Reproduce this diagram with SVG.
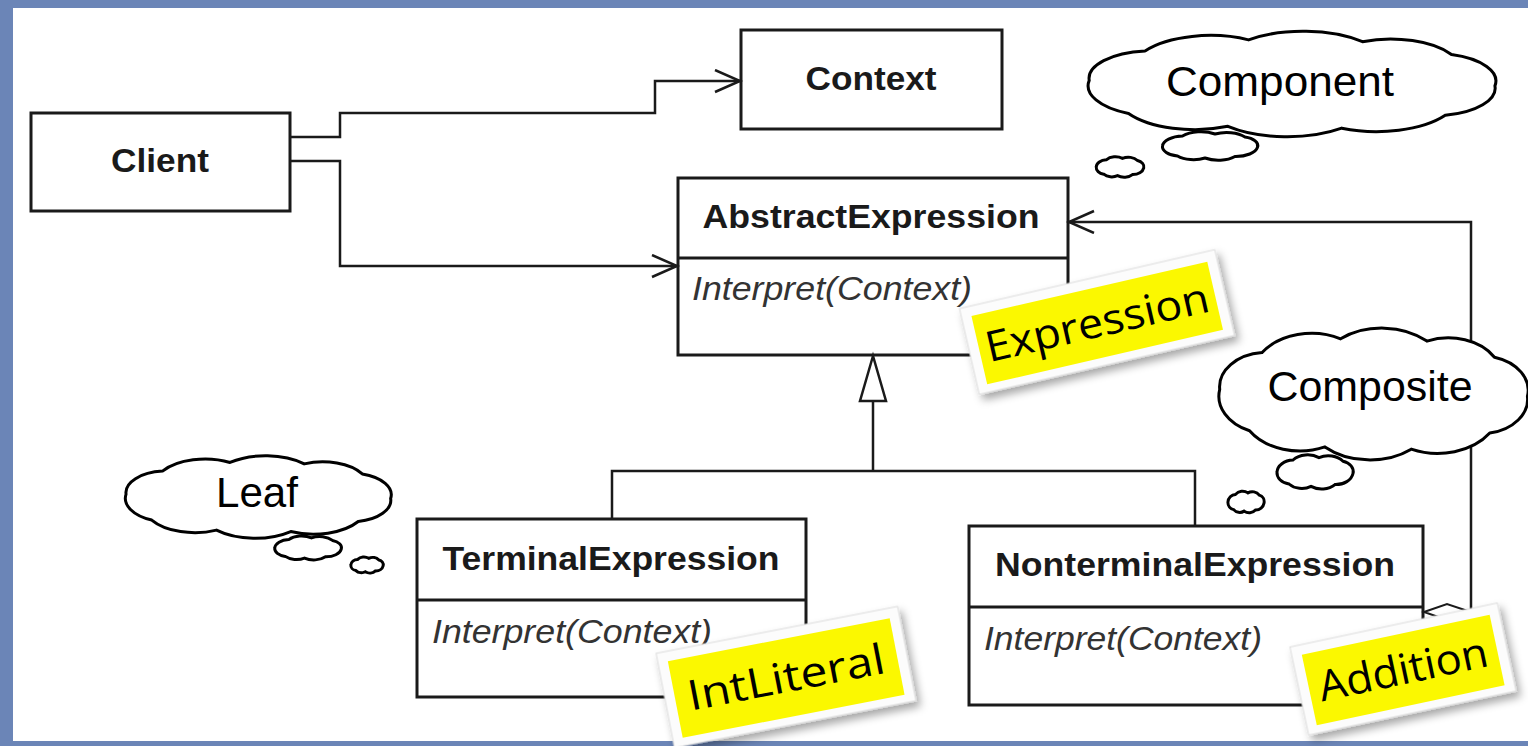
<svg xmlns="http://www.w3.org/2000/svg" width="1528" height="746" viewBox="0 0 1528 746">
<style>
.box{fill:#fff;stroke:#1a1a1a;stroke-width:3}
.div{stroke:#1a1a1a;stroke-width:3}
.title{font-family:"Liberation Sans",Arial,sans-serif;font-weight:bold;font-size:34px;fill:#1a1a1a;text-anchor:middle}
.op{font-family:"Liberation Sans",Arial,sans-serif;font-style:italic;font-size:33px;fill:#333}
.conn{fill:none;stroke:#1a1a1a;stroke-width:2.5}
.cloud{fill:#fff;stroke:#000;stroke-width:3}
.ctext{font-family:"Liberation Sans",Arial,sans-serif;font-size:42px;fill:#000;text-anchor:middle}
.nborder{fill:#fcfcfc;stroke:#dcdcdc;stroke-width:1}
.nfill{fill:#fbf800}
.ntext{font-family:"Open Sans","DejaVu Sans",sans-serif;font-size:42px;fill:#000;text-anchor:middle}
</style>
<defs>
<marker id="open" markerUnits="userSpaceOnUse" markerWidth="30" markerHeight="30" refX="26" refY="12" orient="auto">
<path d="M1,1 L26,12 L1,23" fill="none" stroke="#1a1a1a" stroke-width="2.5"/>
</marker>
<path id="cloudBig" vector-effect="non-scaling-stroke" d="M-97,-4 A30,30 0 0 1 -70,-36 A38,38 0 0 1 -20,-48 A42,42 0 0 1 35,-46 A34,34 0 0 1 78,-32 A30,30 0 0 1 99,2 A30,30 0 0 1 75,34 A40,40 0 0 1 25,48 A42,42 0 0 1 -30,46 A38,38 0 0 1 -78,32 A33,33 0 0 1 -97,-4 Z"/>
<path id="cloudSmall" vector-effect="non-scaling-stroke" d="M-95,0 A42,42 0 0 1 -55,-40 A48,48 0 0 1 10,-48 A46,46 0 0 1 70,-36 A36,36 0 0 1 95,5 A44,44 0 0 1 50,42 A45,45 0 0 1 -10,48 A42,42 0 0 1 -65,40 A38,38 0 0 1 -95,0 Z"/>
<filter id="shadow" x="-20%" y="-20%" width="140%" height="150%">
<feDropShadow dx="3" dy="6" stdDeviation="4" flood-color="#000" flood-opacity="0.35"/>
</filter>
</defs>

<rect x="0" y="0" width="1528" height="746" fill="#6b85b7"/>
<rect x="13" y="8" width="1515" height="733" fill="#fff"/>

<g id="client">
<rect class="box" x="31" y="113" width="259" height="98"/>
<text class="title" x="160" y="172" textLength="98" lengthAdjust="spacingAndGlyphs">Client</text>
</g>
<g id="context">
<rect class="box" x="741" y="30" width="261" height="99"/>
<text class="title" x="871" y="90" textLength="131" lengthAdjust="spacingAndGlyphs">Context</text>
</g>
<g id="abstract-expression">
<rect class="box" x="678" y="178" width="390" height="177"/>
<line class="div" x1="678" y1="258" x2="1068" y2="258"/>
<text class="title" x="871" y="228" textLength="337" lengthAdjust="spacingAndGlyphs">AbstractExpression</text>
<text class="op" x="692" y="300" textLength="280" lengthAdjust="spacingAndGlyphs">Interpret(Context)</text>
</g>
<g id="terminal-expression">
<rect class="box" x="417" y="519" width="389" height="178"/>
<line class="div" x1="417" y1="600" x2="806" y2="600"/>
<text class="title" x="611" y="570" textLength="337" lengthAdjust="spacingAndGlyphs">TerminalExpression</text>
<text class="op" x="432" y="643" textLength="280" lengthAdjust="spacingAndGlyphs">Interpret(Context)</text>
</g>
<g id="nonterminal-expression">
<rect class="box" x="969" y="526" width="454" height="179"/>
<line class="div" x1="969" y1="607" x2="1423" y2="607"/>
<text class="title" x="1195" y="576" textLength="400" lengthAdjust="spacingAndGlyphs">NonterminalExpression</text>
<text class="op" x="984" y="650" textLength="278" lengthAdjust="spacingAndGlyphs">Interpret(Context)</text>
</g>

<g id="connectors">
<polyline class="conn" points="290,137 340,137 340,113 655,113 655,81 740,81" marker-end="url(#open)"/>
<polyline class="conn" points="290,161 340,161 340,266 677,266" marker-end="url(#open)"/>
<polyline class="conn" points="1471,612 1471,222 1069,222" marker-end="url(#open)"/>
<polygon points="1424,612 1447,604 1471,612 1447,620" fill="#fff" stroke="#1a1a1a" stroke-width="2"/>
<line class="conn" x1="873" y1="401" x2="873" y2="471"/>
<polyline class="conn" points="612,519 612,471 1195,471 1195,526"/>
<polygon points="873,356 860,401 886,401" fill="#fff" stroke="#1a1a1a" stroke-width="2.5"/>
</g>

<g id="cloud-component">
<use href="#cloudBig" class="cloud" transform="translate(1290,84) scale(2.07,0.92)"/>
<use href="#cloudSmall" class="cloud" transform="translate(1210,146) scale(0.5,0.25)"/>
<use href="#cloudSmall" class="cloud" transform="translate(1120,167) scale(0.25,0.18)"/>
<text class="ctext" x="1280" y="96" textLength="228" lengthAdjust="spacingAndGlyphs">Component</text>
</g>
<g id="cloud-composite">
<use href="#cloudBig" class="cloud" transform="translate(1372,394) scale(1.57,1.15)"/>
<use href="#cloudSmall" class="cloud" transform="translate(1315,472) scale(0.4,0.3)"/>
<use href="#cloudSmall" class="cloud" transform="translate(1246,502) scale(0.19,0.19)"/>
<text class="ctext" x="1370" y="401" textLength="205" lengthAdjust="spacingAndGlyphs">Composite</text>
</g>
<g id="cloud-leaf">
<use href="#cloudBig" class="cloud" transform="translate(257,497) scale(1.35,0.72)"/>
<use href="#cloudSmall" class="cloud" transform="translate(308,548) scale(0.35,0.21)"/>
<use href="#cloudSmall" class="cloud" transform="translate(367,565) scale(0.17,0.14)"/>
<text class="ctext" x="257" y="507" textLength="82" lengthAdjust="spacingAndGlyphs">Leaf</text>
</g>

<g id="note-expression" transform="translate(1097,322) rotate(-13)">
<rect class="nborder" x="-131" y="-44" width="262" height="88" filter="url(#shadow)"/>
<rect class="nfill" x="-121" y="-34" width="242" height="70"/>
<text class="ntext" x="0" y="15" textLength="228" lengthAdjust="spacingAndGlyphs">Expression</text>
</g>
<g id="note-intliteral" transform="translate(786,677) rotate(-11)">
<rect class="nborder" x="-123" y="-48" width="246" height="96" filter="url(#shadow)"/>
<rect class="nfill" x="-113" y="-38" width="226" height="78"/>
<text class="ntext" x="0" y="15" textLength="200" lengthAdjust="spacingAndGlyphs">IntLiteral</text>
</g>
<g id="note-addition" transform="translate(1403,669) rotate(-12)">
<rect class="nborder" x="-106" y="-45" width="212" height="90" filter="url(#shadow)"/>
<rect class="nfill" x="-96" y="-35" width="192" height="72"/>
<text class="ntext" x="0" y="15" textLength="172" lengthAdjust="spacingAndGlyphs">Addition</text>
</g>
</svg>
